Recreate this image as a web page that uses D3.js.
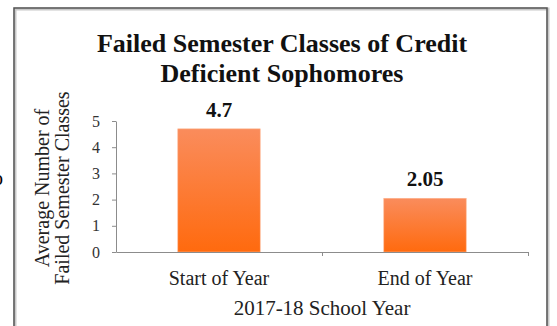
<!DOCTYPE html>
<meta charset="utf-8">
<style>
	body{ margin:0; background:#fff; }
	.axis path, .axis line{ stroke:#8c8c8c; stroke-width:1; }
</style>
<body>
<svg width="557" height="326" id="chart"></svg>
<script src="https://cdnjs.cloudflare.com/ajax/libs/d3/7.8.5/d3.min.js"></script>
<script>
	var categories = ["Start of Year", "End of Year"];
	var values = [4.7, 2.05];
	var valueLabels = ["4.7", "2.05"];
	var yTicks = [0, 1, 2, 3, 4, 5];
	var titleLines = ["Failed Semester Classes of Credit", "Deficient Sophomores"];
	var yTitleLines = ["Average Number of", "Failed Semester Classes"];
	var xTitle = "2017-18 School Year";

	var serif = "'Liberation Serif', 'Times New Roman', serif";
	var svg = d3.select("#chart");

	/* frame around the chart, runs off the bottom of the picture */
	svg.append("rect").attr("x", 15).attr("y", 9).attr("width", 533).attr("height", 330)
		.attr("fill", "none").attr("stroke", "#c8c8c8").attr("stroke-width", 3);
	svg.append("rect").attr("x", 14).attr("y", 8).attr("width", 533).attr("height", 330)
		.attr("fill", "none").attr("stroke", "#555").attr("stroke-width", 1.5);

	// stray glyph cut off at the left edge
	svg.append("text").attr("x", -7).attr("y", 185)
		.style("font-family", serif).style("font-size", "20px").text("o");

	var x0 = 116, x1 = 528, yBase = 252, yTop = 121;

	var x = d3.scaleBand().domain(categories).range([x0, x1])
		.paddingInner(0.6).paddingOuter(0.3);
	var y = d3.scaleLinear().domain([0, 5]).range([yBase, yTop]);

	var grad = svg.append("defs").append("linearGradient")
		.attr("id", "barfill").attr("x1", 0).attr("y1", 0).attr("x2", 0).attr("y2", 1);
	grad.append("stop").attr("offset", "0%").attr("stop-color", "#fa8c5c");
	grad.append("stop").attr("offset", "100%").attr("stop-color", "#ff6a0e");

	svg.selectAll("rect.bar").data(values).enter().append("rect")
		.attr("class", "bar")
		.attr("x", function(d, i){ return x(categories[i]); })
		.attr("y", function(d){ return y(d); })
		.attr("width", x.bandwidth())
		.attr("height", function(d){ return yBase - y(d); })
		.attr("fill", "url(#barfill)")
		.attr("stroke", "#fdb48f").attr("stroke-width", 0.6);

	svg.selectAll("text.val").data(values).enter().append("text")
		.attr("class", "val")
		.attr("x", function(d, i){ return x(categories[i]) + x.bandwidth()/2; })
		.attr("y", function(d){ return y(d) - 12; })
		.attr("text-anchor", "middle")
		.style("font-family", serif).style("font-size", "21px").style("font-weight", "bold")
		.style("fill", "#111")
		.text(function(d, i){ return valueLabels[i]; });

	// y axis
	svg.append("g").attr("class", "axis")
		.attr("transform", "translate(" + x0 + ",0)")
		.call(d3.axisLeft(y).tickValues(yTicks).tickFormat(d3.format("d"))
			.tickSize(4).tickSizeOuter(0).tickPadding(12))
		.selectAll("text")
		.style("font-family", serif).style("font-size", "16px").style("fill", "#333");

	// x axis with ticks on category boundaries
	var xLine = d3.scaleLinear().domain([0, categories.length]).range([x0, x1]);
	svg.append("g").attr("class", "axis")
		.attr("transform", "translate(0," + yBase + ")")
		.call(d3.axisBottom(xLine).tickValues([1, 2]).tickSize(4).tickSizeOuter(0).tickFormat(""));

	svg.selectAll("text.cat").data(categories).enter().append("text")
		.attr("class", "cat")
		.attr("x", function(d){ return x(d) + x.bandwidth()/2; })
		.attr("y", 285)
		.attr("text-anchor", "middle")
		.style("font-family", serif).style("font-size", "20px").style("fill", "#222")
		.text(function(d){ return d; });

	svg.append("text").attr("x", xLine(1)).attr("y", 315)
		.attr("text-anchor", "middle")
		.style("font-family", serif).style("font-size", "21px").style("fill", "#222")
		.text(xTitle);

	svg.selectAll("text.ytitle").data(yTitleLines).enter().append("text")
		.attr("class", "ytitle")
		.attr("transform", function(d, i){ return "translate(" + (49 + i*20) + ",188) rotate(-90)"; })
		.attr("text-anchor", "middle")
		.style("font-family", serif).style("font-size", "20px").style("fill", "#222")
		.text(function(d){ return d; });

	svg.selectAll("text.title").data(titleLines).enter().append("text")
		.attr("class", "title")
		.attr("x", 282).attr("y", function(d, i){ return 52 + i*30; })
		.attr("text-anchor", "middle")
		.style("font-family", serif).style("font-size", "26px").style("font-weight", "bold")
		.style("fill", "#111")
		.text(function(d){ return d; });
</script>
</body>
